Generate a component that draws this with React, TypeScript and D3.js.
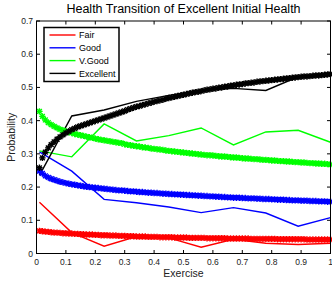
import React from "react";
import * as d3 from "d3";

const title = "Health Transition of Excellent Initial Health";
const xLabel = "Exercise";
const yLabel = "Probability";
const seriesNames = ["Fair", "Good", "V.Good", "Excellent"];
const seriesColors = ["#ff0000", "#0000ff", "#00ff00", "#000000"];
const xTicks = [0, 0.1, 0.2, 0.3, 0.4, 0.5, 0.6, 0.7, 0.8, 0.9, 1];
const yTicks = [0, 0.1, 0.2, 0.3, 0.4, 0.5, 0.6, 0.7];

// observed (thin lines)
const obsExercise = [0.01, 0.12, 0.23, 0.34, 0.45, 0.56, 0.67, 0.78, 0.89, 1.0];
const obsFair = [0.154, 0.063, 0.022, 0.051, 0.047, 0.019, 0.043, 0.031, 0.027, 0.031];
const obsGood = [0.306, 0.248, 0.163, 0.153, 0.14, 0.123, 0.138, 0.122, 0.082, 0.108];
const obsVGood = [0.309, 0.291, 0.39, 0.339, 0.355, 0.378, 0.327, 0.366, 0.371, 0.335];
const obsExcellent = [0.235, 0.414, 0.432, 0.458, 0.476, 0.492, 0.497, 0.491, 0.532, 0.542];

// fitted (dense markers), exercise 0.01 .. 1.00
const fitExercise = d3.range(1, 101).map((i) => i / 100);
const fitFair = [
  0.068, 0.067, 0.066, 0.065, 0.064, 0.063, 0.063, 0.062, 0.061, 0.061,
  0.060, 0.060, 0.059, 0.059, 0.058, 0.058, 0.057, 0.057, 0.057, 0.056,
  0.056, 0.055, 0.055, 0.055, 0.054, 0.054, 0.054, 0.053, 0.053, 0.053,
  0.052, 0.052, 0.052, 0.051, 0.051, 0.051, 0.051, 0.050, 0.050, 0.050,
  0.050, 0.049, 0.049, 0.049, 0.049, 0.049, 0.048, 0.048, 0.048, 0.048,
  0.048, 0.047, 0.047, 0.047, 0.047, 0.047, 0.047, 0.046, 0.046, 0.046,
  0.046, 0.046, 0.046, 0.046, 0.045, 0.045, 0.045, 0.045, 0.045, 0.045,
  0.045, 0.045, 0.044, 0.044, 0.044, 0.044, 0.044, 0.044, 0.044, 0.044,
  0.044, 0.043, 0.043, 0.043, 0.043, 0.043, 0.043, 0.043, 0.043, 0.043,
  0.043, 0.042, 0.042, 0.042, 0.042, 0.042, 0.042, 0.042, 0.042, 0.042,
];
const fitGood = [
  0.248, 0.241, 0.234, 0.229, 0.225, 0.222, 0.219, 0.216, 0.214, 0.212,
  0.210, 0.208, 0.207, 0.205, 0.204, 0.202, 0.201, 0.200, 0.199, 0.198,
  0.197, 0.196, 0.195, 0.194, 0.193, 0.192, 0.191, 0.190, 0.190, 0.189,
  0.188, 0.187, 0.187, 0.186, 0.185, 0.185, 0.184, 0.183, 0.183, 0.182,
  0.182, 0.181, 0.180, 0.180, 0.179, 0.179, 0.178, 0.178, 0.177, 0.177,
  0.176, 0.176, 0.175, 0.175, 0.174, 0.174, 0.173, 0.173, 0.172, 0.172,
  0.171, 0.171, 0.170, 0.170, 0.169, 0.169, 0.168, 0.168, 0.168, 0.167,
  0.167, 0.166, 0.166, 0.166, 0.165, 0.165, 0.164, 0.164, 0.164, 0.163,
  0.163, 0.162, 0.162, 0.162, 0.161, 0.161, 0.160, 0.160, 0.160, 0.159,
  0.159, 0.159, 0.158, 0.158, 0.158, 0.157, 0.157, 0.157, 0.156, 0.156,
];
const fitVGood = [
  0.428, 0.413, 0.402, 0.394, 0.388, 0.383, 0.378, 0.374, 0.371, 0.368,
  0.365, 0.363, 0.360, 0.358, 0.356, 0.354, 0.352, 0.350, 0.348, 0.346,
  0.344, 0.342, 0.341, 0.339, 0.338, 0.336, 0.335, 0.333, 0.332, 0.329,
  0.327, 0.326, 0.324, 0.323, 0.322, 0.320, 0.319, 0.318, 0.316, 0.315,
  0.314, 0.313, 0.312, 0.310, 0.309, 0.308, 0.307, 0.306, 0.305, 0.304,
  0.303, 0.302, 0.301, 0.300, 0.299, 0.298, 0.297, 0.296, 0.296, 0.295,
  0.294, 0.293, 0.292, 0.292, 0.291, 0.290, 0.289, 0.289, 0.288, 0.287,
  0.286, 0.286, 0.285, 0.284, 0.284, 0.283, 0.282, 0.282, 0.281, 0.280,
  0.280, 0.279, 0.278, 0.278, 0.277, 0.277, 0.276, 0.275, 0.275, 0.274,
  0.274, 0.273, 0.272, 0.272, 0.271, 0.271, 0.270, 0.270, 0.269, 0.268,
];
const fitExcellent = [
  0.258, 0.288, 0.305, 0.318, 0.328, 0.336, 0.344, 0.351, 0.357, 0.363,
  0.368, 0.373, 0.377, 0.381, 0.384, 0.387, 0.390, 0.393, 0.396, 0.399,
  0.402, 0.405, 0.408, 0.411, 0.414, 0.417, 0.420, 0.423, 0.426, 0.429,
  0.433, 0.436, 0.439, 0.442, 0.444, 0.447, 0.449, 0.452, 0.454, 0.457,
  0.459, 0.461, 0.463, 0.466, 0.468, 0.470, 0.472, 0.474, 0.476, 0.478,
  0.480, 0.482, 0.484, 0.486, 0.487, 0.489, 0.491, 0.493, 0.494, 0.496,
  0.497, 0.499, 0.500, 0.502, 0.503, 0.505, 0.506, 0.508, 0.509, 0.510,
  0.512, 0.513, 0.514, 0.515, 0.517, 0.518, 0.519, 0.520, 0.521, 0.522,
  0.523, 0.524, 0.525, 0.526, 0.527, 0.528, 0.529, 0.530, 0.531, 0.532,
  0.533, 0.533, 0.534, 0.535, 0.536, 0.536, 0.537, 0.538, 0.539, 0.540,
];

const obsSeries = [obsFair, obsGood, obsVGood, obsExcellent];
const fitSeries = [fitFair, fitGood, fitVGood, fitExcellent];

const W = 332;
const H = 284;
const FONT = "'Liberation Sans', Arial, Helvetica, sans-serif";

export default function App() {
  const x = d3.scaleLinear().domain([0, 1]).range([36.5, 330.5]);
  const y = d3.scaleLinear().domain([0, 0.7]).range([253.5, 21]);
  const line = d3
    .line<number>()
    .x((_, i) => x(obsExercise[i]))
    .y((d) => y(d));
  const x0 = x.range()[0];
  const x1 = x.range()[1];
  const y0 = y.range()[0];
  const y1 = y.range()[1];
  const tickLen = 3.5;

  const marker = (cx: number, cy: number, color: string, key: string) => {
    const a = 3.2;
    const b = 2.4;
    return (
      <path
        key={key}
        d={`M${cx - a},${cy}H${cx + a}M${cx},${cy - a}V${cy + a}M${cx - b},${cy - b}L${cx + b},${cy + b}M${cx - b},${cy + b}L${cx + b},${cy - b}`}
        stroke={color}
        strokeWidth={1.4}
        fill="none"
      />
    );
  };

  return (
    <svg
      width={W}
      height={H}
      style={{ position: "absolute", left: 0, top: 0, background: "#fff" }}
      fontFamily={FONT}
    >
      <rect x={0} y={0} width={W} height={H} fill="#fff" />
      <text x={(x0 + x1) / 2} y={13} textAnchor="middle" fontSize={12.5} fill="#000">
        {title}
      </text>
      {obsSeries.map((s, k) => (
        <path key={"o" + k} d={line(s) || ""} fill="none" stroke={seriesColors[k]} strokeWidth={1.4} />
      ))}
      {fitSeries.map((s, k) =>
        s.map((v, i) => marker(x(fitExercise[i]), y(v), seriesColors[k], `m${k}-${i}`))
      )}
      <rect x={x0} y={y1} width={x1 - x0} height={y0 - y1} fill="none" stroke="#000" strokeWidth={1} />
      {xTicks.map((t) => (
        <g key={"xt" + t}>
          <line x1={x(t)} x2={x(t)} y1={y0} y2={y0 - tickLen} stroke="#000" />
          <line x1={x(t)} x2={x(t)} y1={y1} y2={y1 + tickLen} stroke="#000" />
          <text x={x(t)} y={264.5} textAnchor="middle" fontSize={8.5} fill="#222">
            {String(t)}
          </text>
        </g>
      ))}
      {yTicks.map((t) => (
        <g key={"yt" + t}>
          <line x1={x0} x2={x0 + tickLen} y1={y(t)} y2={y(t)} stroke="#000" />
          <line x1={x1} x2={x1 - tickLen} y1={y(t)} y2={y(t)} stroke="#000" />
          <text x={33} y={y(t) + 3} textAnchor="end" fontSize={8.5} fill="#222">
            {String(t)}
          </text>
        </g>
      ))}
      <text x={(x0 + x1) / 2} y={276.5} textAnchor="middle" fontSize={10.5} fill="#222">
        {xLabel}
      </text>
      <text
        transform={`translate(15,${(y0 + y1) / 2}) rotate(-90)`}
        textAnchor="middle"
        fontSize={10.5}
        fill="#222"
      >
        {yLabel}
      </text>
      <rect x={44} y={27.5} width={75} height={54} fill="#fff" stroke="#000" strokeWidth={1.5} />
      {seriesNames.map((n, k) => {
        const ly = 35 + k * 12.8;
        return (
          <g key={"lg" + k}>
            <line x1={49.5} x2={75.5} y1={ly} y2={ly} stroke={seriesColors[k]} strokeWidth={1.4} />
            <text x={79} y={ly + 3.2} fontSize={9} fill="#000">
              {n}
            </text>
          </g>
        );
      })}
    </svg>
  );
}
